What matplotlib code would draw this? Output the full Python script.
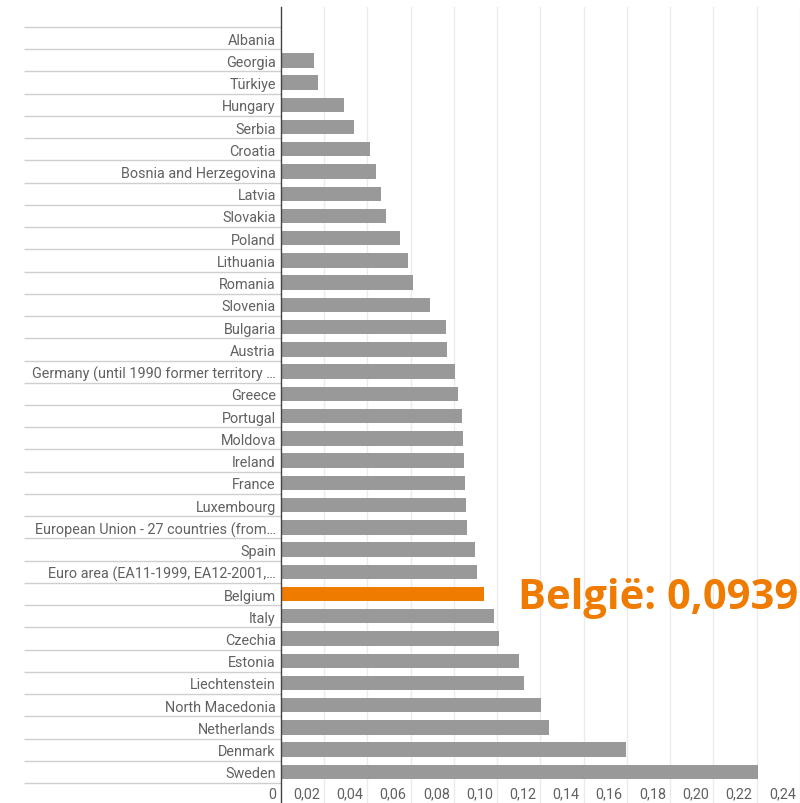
import matplotlib
matplotlib.use("Agg")
import matplotlib.pyplot as plt
from matplotlib.transforms import ScaledTranslation

# ── Data ───────────────────────────────────────────────────────────────────────
countries = [
    "Albania", "Georgia", "Türkiye", "Hungary", "Serbia", "Croatia",
    "Bosnia and Herzegovina", "Latvia", "Slovakia", "Poland", "Lithuania",
    "Romania", "Slovenia", "Bulgaria", "Austria",
    "Germany (until 1990 former territory …", "Greece", "Portugal",
    "Moldova", "Ireland", "France", "Luxembourg",
    "European Union - 27 countries (from…", "Spain",
    "Euro area (EA11-1999, EA12-2001,…", "Belgium", "Italy", "Czechia",
    "Estonia", "Liechtenstein", "North Macedonia", "Netherlands",
    "Denmark", "Sweden",
]
values = [
    0.0, 0.0152, 0.0173, 0.0292, 0.0339, 0.0413,
    0.0441, 0.0464, 0.0488, 0.0551, 0.0588,
    0.0611, 0.0690, 0.0763, 0.0769,
    0.0806, 0.0820, 0.0837,
    0.0843, 0.0846, 0.0851, 0.0857,
    0.0862, 0.0899,
    0.0908, 0.0939, 0.0987, 0.1007,
    0.1103, 0.1126, 0.1204, 0.1239,
    0.1596, 0.2207,
]
highlight = "Belgium"
annotation = "België: 0,0939"
xticks = [0, 0.02, 0.04, 0.06, 0.08, 0.10, 0.12, 0.14, 0.16, 0.18, 0.20, 0.22, 0.24]
xtick_labels = ["0", "0,02", "0,04", "0,06", "0,08", "0,10", "0,12",
                "0,14", "0,16", "0,18", "0,20", "0,22", "0,24"]

# ── Style ──────────────────────────────────────────────────────────────────────
GRAY   = "#999999"
ORANGE = "#EF7B00"
LABEL  = "#616161"
GRID   = "#ebebeb"

plt.rcParams["font.family"] = ["Roboto", "DejaVu Sans"]

fig = plt.figure(figsize=(8, 8.04), dpi=100)
ax = fig.add_axes([0.3509, 0.0248, 0.6491, 0.9652])

ypos = list(range(len(countries)))
colors = [ORANGE if c == highlight else GRAY for c in countries]
ax.barh(ypos, values, height=0.65, color=colors, zorder=3)

ax.set_xlim(0, 0.24)
ax.set_ylim(len(countries) - 0.5, -1.395)

# vertical gridlines run down through the tick label strip
for v in xticks[1:]:
    ax.axvline(v, ymin=-0.03, ymax=1, color=GRID, lw=1, zorder=0, clip_on=False)
ax.axvline(0, ymin=-0.03, ymax=1, color="#444444", lw=1, zorder=4, clip_on=False)

# row separators on the label side
ax.hlines([i - 0.5 for i in range(len(countries) + 1)], -0.494, 0,
          transform=ax.get_yaxis_transform(), color="#cfcfcf", lw=1,
          clip_on=False, zorder=1)

for s in ax.spines.values():
    s.set_visible(False)

ax.set_yticks(ypos)
ax.set_yticklabels(countries, fontsize=10.4, color=LABEL)
ax.set_xticks(xticks)
ax.set_xticklabels(xtick_labels, fontsize=10.4, color=LABEL)
ax.tick_params(axis="y", length=0, pad=3.5)
ax.tick_params(axis="x", length=0, pad=2.5)
shift = ScaledTranslation(-3 / 72, 0, fig.dpi_scale_trans)
for lab in ax.get_xticklabels():
    lab.set_horizontalalignment("right")
    lab.set_transform(lab.get_transform() + shift)

# highlight annotation
bi = countries.index(highlight)
ax.text(0.1098, bi + 0.15, annotation, ha="left", va="center", color=ORANGE,
        fontsize=30, fontweight="bold", family=["Open Sans", "DejaVu Sans"],
        zorder=5)

fig.savefig("out.png", dpi=100)
